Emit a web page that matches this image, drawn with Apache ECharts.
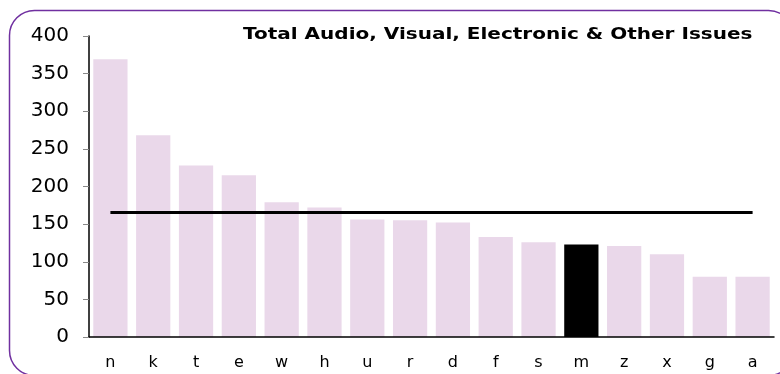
<!DOCTYPE html>
<html><head><meta charset="utf-8">
<script src="https://cdn.jsdelivr.net/npm/echarts@6/dist/echarts.min.js"></script>
<style>html,body{margin:0;padding:0;background:#fff}#c{width:780px;height:374px}</style>
</head><body><div id="c"></div>
<script>
const categories = ['n','k','t','e','w','h','u','r','d','f','s','m','z','x','g','a'];
const values = [369, 268, 228, 215, 179, 172, 156, 155, 152, 133, 126, 123, 121, 110, 80, 80];
const highlight = 'm';
const averageValue = 166;
const titleText = 'Total Audio, Visual, Electronic & Other Issues';
const yTicks = [0, 50, 100, 150, 200, 250, 300, 350, 400];

const chart = echarts.init(document.getElementById('c'));
chart.setOption({
  animation: false,
  graphic: [{
    type: 'rect', shape: {x: 9.5, y: 10.5, width: 784, height: 365, r: 25},
    style: {fill: 'none', stroke: '#7030A0', lineWidth: 1.5}, z: 10
  }, {
    type: 'text', x: 243, y: 35, scaleX: 1.25,
    style: {text: titleText, font: 'bold 16px "DejaVu Sans"', fill: '#000',
            textAlign: 'left', textVerticalAlign: 'middle', verticalAlign: 'middle'}
  }],
  grid: {left: 89, right: 6, top: 36, bottom: 37},
  xAxis: {
    type: 'category', data: categories, z: 5,
    axisLine: {lineStyle: {color: '#000', width: 1.5}},
    axisTick: {show: false},
    axisLabel: {color: '#000', fontSize: 16, fontFamily: 'DejaVu Sans', margin: 18}
  },
  yAxis: {
    type: 'value', min: yTicks[0], max: yTicks[yTicks.length-1], interval: 50, z: 5,
    axisLine: {show: true, lineStyle: {color: '#000', width: 1.5}},
    axisTick: {show: true, length: 6, lineStyle: {color: '#888'}},
    splitLine: {show: false},
    axisLabel: {color: '#000', fontSize: 20, fontFamily: 'DejaVu Sans', margin: 20}
  },
  series: [{
    type: 'bar', barCategoryGap: '20%',
    data: values.map((v, i) => ({
      value: v,
      itemStyle: {color: categories[i] === highlight ? '#000' : '#EAD8EA'}
    })),
    markLine: {
      symbol: 'none', silent: true,
      lineStyle: {color: '#000', width: 3, type: 'solid'},
      label: {show: false},
      data: [[{coord: [categories[0], averageValue]}, {coord: [categories[categories.length-1], averageValue]}]]
    }
  }]
});
</script></body></html>
